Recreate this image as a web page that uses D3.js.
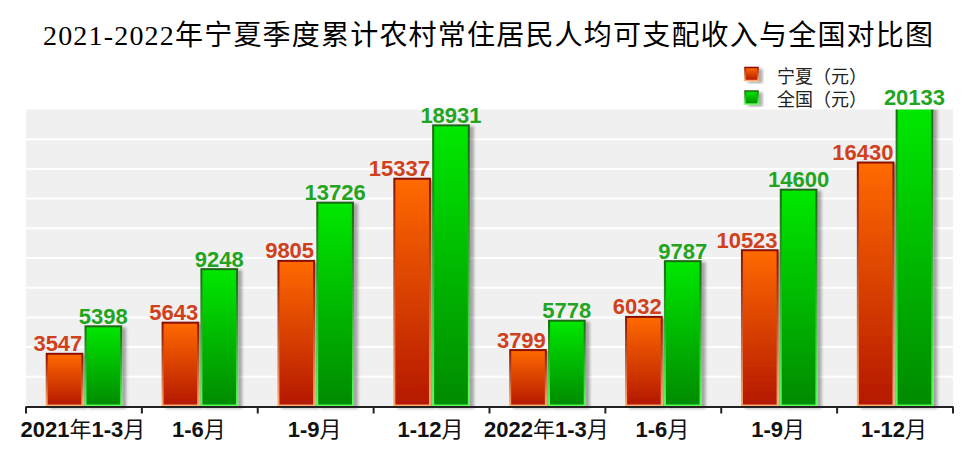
<!DOCTYPE html>
<html>
<head>
<meta charset="utf-8">
<script src="https://cdn.jsdelivr.net/npm/d3@7"></script>
<style>
  body { margin: 0; background: #fff; }
  svg { display: block; }
</style>
</head>
<body>
<svg id="chart" width="979" height="465"></svg>
<script>
// Quarterly cumulative per-capita disposable income of rural residents (yuan)
const categoryLabels = ["2021年1-3月", "1-6月", "1-9月", "1-12月", "2022年1-3月", "1-6月", "1-9月", "1-12月"];
const ningxia  = [3547, 5643, 9805, 15337, 3799, 6032, 10523, 16430];
const national = [5398, 9248, 13726, 18931, 5778, 9787, 14600, 20133];
const seriesNames = ["宁夏（元）", "全国（元）"];
const yMax = 20000;
const yStep = 2000;
const titleText = "2021-2022年宁夏季度累计农村常住居民人均可支配收入与全国对比图";

const svg = d3.select("#chart");
const plot = { left: 26, right: 953, top: 109.5, bottom: 406.5 };

const x0 = d3.scaleBand()
  .domain(d3.range(categoryLabels.length))
  .range([plot.left, plot.right])
  .padding(0);
const x1 = d3.scaleBand()
  .domain([0, 1])
  .range([x0.bandwidth() * 0.17, x0.bandwidth() * 0.83])
  .paddingInner(0.03);
const y = d3.scaleLinear().domain([0, yMax]).range([plot.bottom, plot.top]);

const palette = {
  fill:   [["#ff6a00", "#b41800"], ["#00e800", "#008a00"]],
  stroke: [["#8a1000", "#ffa96e"], ["#1a6812", "#55ff55"]],
  label:  ["#d0401b", "#22a51e"]
};

const defs = svg.append("defs");
function vGradient(id, stops) {
  const g = defs.append("linearGradient").attr("id", id)
    .attr("x1", 0).attr("y1", 0).attr("x2", 0).attr("y2", 1);
  g.append("stop").attr("offset", "0%").attr("stop-color", stops[0]);
  g.append("stop").attr("offset", "100%").attr("stop-color", stops[1]);
}
[0, 1].forEach(s => {
  vGradient("fill" + s, palette.fill[s]);
  vGradient("stroke" + s, palette.stroke[s]);
});
const shadow = defs.append("filter").attr("id", "shadow")
  .attr("x", "-20%").attr("y", "-20%").attr("width", "160%").attr("height", "140%");
shadow.append("feDropShadow").attr("dx", 4).attr("dy", 2).attr("stdDeviation", 1.6)
  .attr("flood-color", "#000").attr("flood-opacity", 0.32);
defs.append("clipPath").attr("id", "plotClip")
  .append("rect").attr("x", plot.left - 5).attr("y", plot.top)
  .attr("width", plot.right - plot.left + 15).attr("height", plot.bottom - plot.top + 6);

// Title
svg.append("text")
  .attr("x", 488).attr("y", 45)
  .attr("text-anchor", "middle")
  .attr("font-family", "'Liberation Serif', 'Noto Sans CJK SC', serif")
  .attr("font-size", 28)
  .attr("textLength", 890)
  .attr("lengthAdjust", "spacing")
  .attr("fill", "#000")
  .text(titleText);

// Plot background and gridlines
svg.append("rect")
  .attr("x", plot.left).attr("y", y(yMax))
  .attr("width", plot.right - plot.left).attr("height", y(0) - y(yMax))
  .attr("fill", "#f0f0f0");
svg.append("g").selectAll("line")
  .data(d3.range(yStep, yMax, yStep))
  .join("line")
  .attr("x1", plot.left).attr("x2", plot.right)
  .attr("y1", d => y(d)).attr("y2", d => y(d))
  .attr("stroke", "#fff").attr("stroke-width", 2);

// Bars
const rows = categoryLabels.map((c, i) => ({ i, values: [ningxia[i], national[i]] }));
const barLayer = svg.append("g").attr("clip-path", "url(#plotClip)");
barLayer.selectAll("g")
  .data(rows)
  .join("g")
  .attr("transform", d => `translate(${x0(d.i)},0)`)
  .selectAll("rect")
  .data(d => d.values.map((v, s) => ({ v, s })))
  .join("rect")
  .attr("x", d => x1(d.s) + 1)
  .attr("y", d => y(d.v))
  .attr("width", x1.bandwidth() - 2)
  .attr("height", d => y(0) - y(d.v) - 1)
  .attr("fill", d => `url(#fill${d.s})`)
  .attr("stroke", d => `url(#stroke${d.s})`)
  .attr("stroke-width", 2)
  .attr("filter", "url(#shadow)");

// Value labels
const labelLayer = svg.append("g")
  .attr("font-family", "'Liberation Sans', Arial, sans-serif")
  .attr("font-weight", "bold")
  .attr("font-size", 22);
rows.forEach(r => {
  r.values.forEach((v, s) => {
    const left = x0(r.i) + x1(s);
    labelLayer.append("text")
      .attr("x", s === 0 ? left + x1.bandwidth() - 1 : left + x1.bandwidth() / 2)
      .attr("y", y(v) - 2.5)
      .attr("text-anchor", s === 0 ? "end" : "middle")
      .attr("fill", palette.label[s])
      .text(v);
  });
});

// X axis: baseline, boundary ticks and category labels
const axis = svg.append("g");
axis.append("line")
  .attr("x1", plot.left).attr("x2", plot.right)
  .attr("y1", plot.bottom + 0.5).attr("y2", plot.bottom + 0.5)
  .attr("stroke", "#222").attr("stroke-width", 2);
const edges = x0.domain().map(d => x0(d)).concat([plot.right]);
axis.selectAll("line.tick")
  .data(edges)
  .join("line")
  .attr("class", "tick")
  .attr("x1", d => d).attr("x2", d => d)
  .attr("y1", plot.bottom).attr("y2", plot.bottom + 7)
  .attr("stroke", "#222").attr("stroke-width", 2);

const isCJK = /[\u4e00-\u9fff]/;
const catText = axis.selectAll("text.cat")
  .data(rows)
  .join("text")
  .attr("class", "cat")
  .attr("x", d => x0(d.i) + x0.bandwidth() / 2 - 1)
  .attr("y", 436.5)
  .attr("text-anchor", "middle")
  .attr("font-family", "'Liberation Sans', Arial, 'Noto Sans CJK SC', sans-serif")
  .attr("font-size", 22)
  .attr("fill", "#111");
catText.each(function (d) {
  const t = d3.select(this);
  categoryLabels[d.i].match(/[\u4e00-\u9fff]+|[^\u4e00-\u9fff]+/g).forEach(part => {
    t.append("tspan")
      .attr("font-weight", isCJK.test(part) ? "normal" : "bold")
      .attr("font-family", isCJK.test(part) ? "'Noto Sans CJK SC', sans-serif" : null)
      .text(part);
  });
});

// Legend
const legend = svg.append("g").selectAll("g")
  .data(seriesNames)
  .join("g")
  .attr("transform", (d, s) => `translate(745,${74.5 + s * 23.5})`);
legend.append("rect")
  .attr("x", 0).attr("y", -7).attr("width", 13).attr("height", 13)
  .attr("fill", (d, s) => `url(#fill${s})`)
  .attr("stroke", (d, s) => `url(#stroke${s})`)
  .attr("stroke-width", 1.5)
  .attr("filter", "url(#shadow)");
legend.append("text")
  .attr("x", 32).attr("y", 0)
  .attr("dominant-baseline", "central")
  .attr("font-family", "'Noto Sans CJK SC', sans-serif")
  .attr("font-size", 18)
  .attr("textLength", 90)
  .attr("lengthAdjust", "spacing")
  .attr("fill", "#222")
  .text(d => d);
</script>
</body>
</html>
